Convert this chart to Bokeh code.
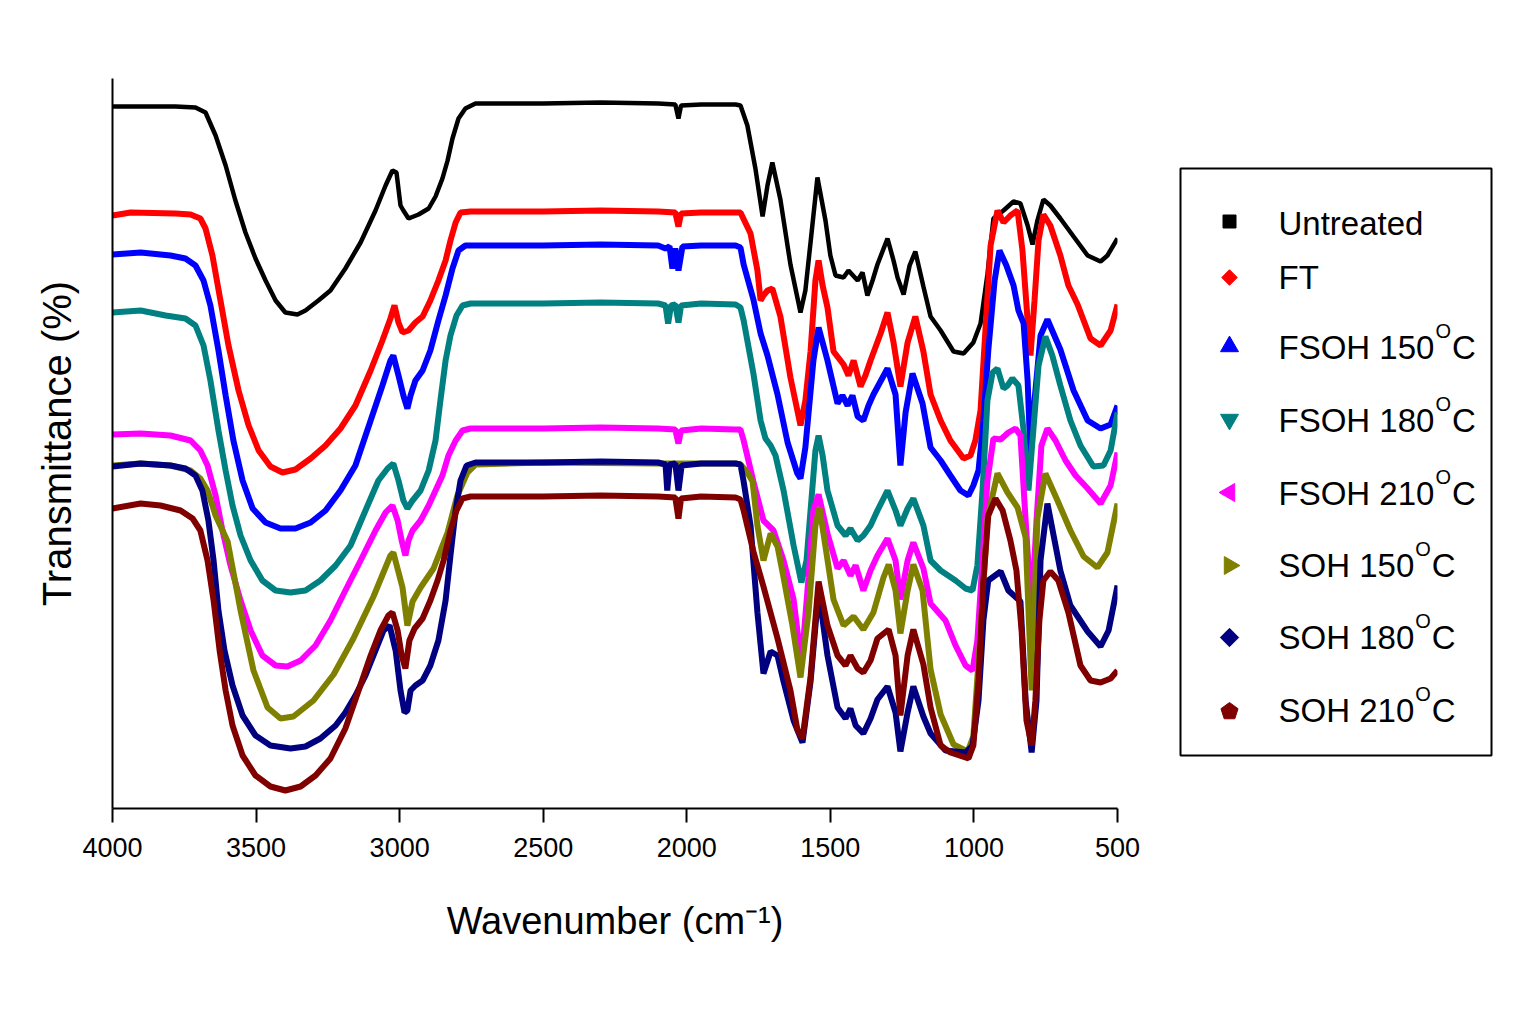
import numpy as np
from bokeh.plotting import figure
from bokeh.layouts import row
from bokeh.models import Range1d, FixedTicker
from bokeh.core.properties import value
from bokeh.embed import file_html
from bokeh.resources import INLINE

# (wavenumber cm-1, transmittance %)
untreated = [
    (4000, 70.2), (3781, 70.2), (3711, 70.1), (3676, 69.6), (3641, 67.3), (3606, 64.3), (3572, 60.8),
    (3537, 57.6), (3502, 55.0), (3467, 52.8), (3432, 50.8), (3398, 49.6), (3356, 49.4), (3328, 49.8),
    (3283, 50.8), (3241, 51.8), (3189, 54.0), (3136, 56.6), (3084, 59.8), (3049, 62.3), (3025, 63.8),
    (3011, 63.6), (2997, 60.3), (2987, 59.8), (2969, 59.0), (2934, 59.4), (2899, 60.0), (2875, 61.2),
    (2851, 63.0), (2833, 64.8), (2816, 67.0), (2795, 69.0), (2771, 70.0), (2736, 70.5), (2500, 70.5),
    (2300, 70.6), (2100, 70.5), (2040, 70.4), (2029, 69.0), (2020, 70.3), (1950, 70.4), (1830, 70.4),
    (1813, 70.3), (1789, 68.3), (1761, 64.0), (1736, 59.2), (1719, 62.3), (1702, 64.6), (1674, 60.9),
    (1639, 54.4), (1604, 49.6), (1587, 51.8), (1569, 56.6), (1545, 63.1), (1517, 58.8), (1500, 55.3),
    (1482, 53.3), (1454, 53.1), (1437, 53.8), (1405, 52.8), (1388, 53.6), (1371, 51.3), (1353, 52.8),
    (1336, 54.4), (1301, 57.0), (1280, 54.8), (1266, 53.1), (1245, 51.4), (1224, 54.3), (1204, 55.7),
    (1176, 52.2), (1151, 49.2), (1116, 47.8), (1071, 45.7), (1036, 45.5), (1002, 46.6), (977, 48.5),
    (953, 53.4), (932, 59.0), (897, 59.8), (862, 60.7), (838, 60.5), (813, 58.3), (796, 56.4),
    (779, 58.8), (758, 60.9), (734, 60.3), (699, 59.0), (653, 57.2), (604, 55.3), (559, 54.7),
    (535, 55.3), (500, 57.0),
]

ft = [
    (4000, 59.3), (3937, 59.6), (3781, 59.5), (3728, 59.4), (3694, 59.0), (3676, 58.0), (3652, 55.3),
    (3624, 50.8), (3596, 46.3), (3561, 41.8), (3526, 38.3), (3491, 35.8), (3450, 34.2), (3408, 33.6),
    (3363, 33.9), (3310, 35.0), (3258, 36.3), (3206, 38.0), (3154, 40.3), (3101, 43.8), (3060, 46.8),
    (3032, 49.0), (3018, 50.3), (3004, 48.6), (2990, 47.6), (2969, 47.8), (2945, 48.6), (2920, 49.2),
    (2893, 50.8), (2865, 52.8), (2840, 54.8), (2823, 56.8), (2805, 58.6), (2788, 59.6), (2753, 59.7),
    (2500, 59.7), (2300, 59.8), (2100, 59.7), (2040, 59.6), (2029, 58.2), (2020, 59.5), (1950, 59.6),
    (1830, 59.6), (1813, 59.6), (1778, 57.5), (1754, 53.8), (1743, 50.8), (1733, 51.3), (1719, 51.8),
    (1702, 52.0), (1674, 49.2), (1639, 43.1), (1604, 38.3), (1587, 40.8), (1569, 45.7), (1552, 52.8),
    (1541, 54.8), (1527, 52.3), (1510, 50.1), (1489, 45.7), (1454, 44.4), (1437, 43.3), (1419, 44.8),
    (1395, 42.2), (1378, 43.3), (1360, 44.8), (1325, 47.5), (1301, 49.6), (1280, 46.6), (1256, 42.2),
    (1231, 46.6), (1204, 49.2), (1176, 45.7), (1151, 41.4), (1116, 38.8), (1082, 36.8), (1036, 35.0),
    (1012, 35.3), (995, 36.8), (977, 39.8), (960, 47.8), (942, 56.3), (918, 59.8), (897, 58.6),
    (873, 59.3), (848, 59.8), (831, 55.8), (813, 48.8), (803, 45.3), (789, 50.8), (775, 56.8),
    (758, 59.4), (734, 58.3), (699, 55.3), (671, 52.3), (639, 50.4), (594, 47.0), (559, 46.3),
    (524, 47.8), (500, 50.4),
]

fsoh150 = [
    (4000, 55.4), (3902, 55.6), (3798, 55.3), (3746, 55.0), (3711, 54.3), (3683, 52.8), (3659, 50.3),
    (3631, 45.8), (3606, 41.3), (3579, 36.8), (3547, 32.8), (3512, 30.0), (3467, 28.6), (3415, 28.0),
    (3363, 28.0), (3310, 28.6), (3258, 29.8), (3206, 31.8), (3154, 34.3), (3101, 38.8), (3060, 42.3),
    (3032, 44.8), (3022, 45.3), (3004, 43.3), (2987, 41.3), (2973, 40.0), (2962, 41.3), (2945, 42.8),
    (2920, 43.8), (2893, 45.8), (2865, 48.8), (2840, 51.3), (2816, 54.0), (2795, 55.8), (2771, 56.3),
    (2500, 56.3), (2300, 56.4), (2100, 56.3), (2074, 56.0), (2060, 56.2), (2050, 54.0), (2040, 56.0),
    (2029, 53.8), (2015, 56.2), (1950, 56.3), (1830, 56.3), (1813, 56.1), (1802, 54.4), (1768, 50.9),
    (1743, 47.5), (1719, 45.3), (1684, 41.4), (1649, 36.6), (1615, 33.5), (1604, 33.0), (1587, 36.1),
    (1559, 44.8), (1541, 48.1), (1510, 44.8), (1475, 40.5), (1458, 41.3), (1440, 40.3), (1423, 41.3),
    (1405, 39.2), (1385, 38.8), (1367, 40.3), (1350, 41.4), (1301, 44.0), (1273, 41.4), (1256, 34.3),
    (1238, 39.6), (1214, 43.5), (1179, 40.5), (1151, 36.1), (1116, 34.8), (1082, 33.3), (1047, 31.8),
    (1019, 31.3), (1002, 32.3), (984, 33.8), (967, 38.8), (950, 45.8), (928, 52.8), (911, 55.8),
    (887, 54.3), (862, 52.3), (845, 49.8), (827, 48.5), (813, 42.8), (803, 35.3), (789, 40.8),
    (768, 47.3), (744, 48.9), (699, 45.9), (653, 41.8), (604, 38.8), (559, 38.0), (524, 38.4),
    (500, 40.3),
]

fsoh180 = [
    (4000, 49.6), (3902, 49.8), (3815, 49.3), (3746, 49.0), (3711, 48.3), (3683, 46.3), (3659, 42.8),
    (3631, 37.8), (3606, 33.8), (3582, 30.3), (3554, 27.3), (3519, 24.8), (3478, 22.8), (3432, 21.8),
    (3380, 21.6), (3328, 21.8), (3276, 22.8), (3223, 24.3), (3171, 26.3), (3119, 29.8), (3074, 32.8),
    (3042, 34.0), (3022, 34.5), (3004, 32.8), (2987, 30.8), (2973, 30.0), (2955, 30.8), (2927, 31.8),
    (2899, 33.8), (2875, 36.8), (2858, 40.8), (2840, 44.8), (2823, 47.3), (2802, 49.3), (2781, 50.3),
    (2753, 50.5), (2500, 50.5), (2300, 50.6), (2100, 50.5), (2074, 50.3), (2065, 48.5), (2055, 50.3),
    (2040, 50.4), (2029, 48.6), (2020, 50.3), (1950, 50.5), (1830, 50.4), (1813, 50.1), (1802, 48.8),
    (1768, 43.5), (1743, 38.8), (1726, 37.0), (1708, 36.3), (1691, 35.3), (1663, 31.8), (1628, 26.3),
    (1601, 22.6), (1583, 24.8), (1569, 29.8), (1552, 35.8), (1541, 37.3), (1527, 35.3), (1510, 31.8),
    (1475, 28.3), (1447, 27.3), (1430, 28.0), (1405, 26.8), (1385, 27.3), (1360, 28.3), (1336, 29.8),
    (1301, 31.8), (1273, 29.8), (1256, 28.3), (1231, 30.0), (1211, 31.0), (1176, 28.3), (1151, 24.8),
    (1116, 23.8), (1064, 22.8), (1029, 22.0), (1005, 21.8), (988, 24.3), (970, 31.8), (953, 40.8),
    (935, 43.6), (918, 44.0), (897, 42.0), (883, 42.3), (866, 43.0), (845, 42.3), (827, 37.8),
    (810, 31.8), (796, 36.8), (775, 44.3), (751, 47.2), (727, 45.3), (699, 42.3), (664, 38.8),
    (629, 36.3), (584, 34.2), (549, 34.3), (524, 35.8), (500, 39.6),
]

fsoh210 = [
    (4000, 37.4), (3902, 37.5), (3798, 37.3), (3728, 36.8), (3694, 35.8), (3669, 34.3), (3641, 31.3),
    (3617, 27.8), (3589, 24.3), (3554, 20.8), (3519, 17.8), (3478, 15.3), (3432, 14.3), (3391, 14.2),
    (3345, 14.8), (3293, 16.3), (3241, 18.8), (3189, 21.8), (3136, 24.8), (3084, 27.8), (3049, 29.6),
    (3025, 30.3), (3007, 28.8), (2993, 26.8), (2980, 25.3), (2969, 26.8), (2955, 27.8), (2927, 28.8),
    (2899, 30.3), (2875, 31.8), (2851, 33.3), (2830, 35.3), (2805, 36.8), (2781, 37.8), (2753, 38.0),
    (2500, 38.0), (2300, 38.1), (2100, 38.0), (2040, 37.9), (2029, 36.5), (2020, 37.8), (1950, 38.0),
    (1830, 37.9), (1813, 37.9), (1802, 36.8), (1768, 32.7), (1733, 28.8), (1698, 27.8), (1663, 24.8),
    (1628, 20.9), (1604, 15.3), (1594, 16.8), (1576, 23.1), (1559, 29.8), (1541, 31.4), (1510, 27.5),
    (1475, 24.0), (1454, 24.8), (1430, 23.3), (1412, 24.3), (1385, 21.8), (1360, 23.8), (1336, 25.3),
    (1301, 27.0), (1273, 24.8), (1256, 20.9), (1231, 24.8), (1211, 26.6), (1176, 24.0), (1151, 20.5),
    (1099, 18.8), (1064, 16.3), (1029, 14.3), (1005, 13.8), (988, 16.8), (970, 24.8), (953, 32.8),
    (932, 37.0), (907, 36.9), (880, 37.6), (855, 38.0), (838, 37.3), (820, 28.8), (799, 19.5),
    (782, 28.8), (765, 36.3), (744, 38.0), (716, 36.8), (681, 34.8), (646, 33.3), (604, 32.0),
    (559, 30.5), (524, 32.3), (500, 35.6),
]

soh150 = [
    (4000, 34.3), (3902, 34.5), (3798, 34.3), (3728, 33.8), (3694, 33.0), (3669, 31.8), (3641, 29.3),
    (3599, 26.7), (3554, 19.8), (3509, 13.8), (3460, 10.1), (3415, 9.0), (3370, 9.2), (3300, 10.8),
    (3230, 13.4), (3161, 17.0), (3091, 21.2), (3032, 25.3), (3022, 25.6), (2990, 22.1), (2973, 18.3),
    (2955, 20.7), (2927, 22.1), (2882, 24.0), (2833, 27.6), (2799, 31.3), (2764, 33.6), (2736, 34.4),
    (2500, 34.6), (2100, 34.5), (1830, 34.5), (1813, 34.4), (1789, 33.6), (1771, 32.7), (1754, 28.3),
    (1733, 24.8), (1708, 27.5), (1684, 26.2), (1663, 23.1), (1632, 18.3), (1604, 13.1), (1576, 19.6),
    (1552, 28.3), (1538, 30.1), (1517, 26.2), (1489, 20.9), (1454, 18.3), (1419, 19.2), (1385, 17.9),
    (1350, 19.6), (1315, 23.1), (1297, 24.4), (1273, 21.8), (1256, 17.5), (1231, 21.8), (1211, 24.4),
    (1179, 21.8), (1151, 13.9), (1116, 9.4), (1071, 6.4), (1022, 5.7), (1002, 7.2), (977, 17.7),
    (953, 29.0), (918, 33.5), (883, 31.6), (848, 30.1), (820, 27.1), (799, 11.8), (779, 29.0),
    (751, 33.5), (709, 30.8), (664, 27.8), (618, 25.2), (570, 24.1), (535, 25.6), (500, 30.5),
]

soh180 = [
    (4000, 34.2), (3902, 34.5), (3798, 34.3), (3746, 34.0), (3711, 33.3), (3687, 31.8), (3666, 28.8),
    (3648, 24.8), (3631, 19.8), (3610, 15.8), (3582, 12.3), (3547, 9.3), (3502, 7.3), (3450, 6.3),
    (3380, 6.0), (3328, 6.2), (3276, 7.0), (3223, 8.3), (3189, 9.6), (3154, 11.3), (3119, 13.3),
    (3084, 15.8), (3056, 17.8), (3035, 18.3), (3014, 15.8), (2997, 11.8), (2983, 9.6), (2973, 9.8),
    (2962, 11.8), (2945, 12.3), (2920, 12.8), (2893, 14.3), (2865, 16.8), (2840, 20.8), (2823, 25.3),
    (2805, 29.8), (2788, 32.8), (2767, 34.3), (2736, 34.6), (2500, 34.6), (2300, 34.7), (2100, 34.6),
    (2074, 34.4), (2068, 31.8), (2060, 34.4), (2040, 34.5), (2029, 31.8), (2018, 34.3), (1950, 34.5),
    (1830, 34.5), (1813, 34.4), (1802, 32.7), (1778, 28.3), (1754, 19.6), (1733, 13.5), (1708, 15.7),
    (1684, 15.3), (1663, 12.7), (1628, 8.8), (1597, 6.6), (1569, 12.7), (1541, 21.8), (1510, 15.3),
    (1475, 10.1), (1447, 9.0), (1430, 10.0), (1412, 8.3), (1385, 7.5), (1360, 9.0), (1336, 10.9),
    (1301, 12.2), (1273, 9.6), (1256, 5.7), (1231, 9.6), (1211, 12.2), (1176, 9.2), (1151, 7.5),
    (1099, 5.8), (1029, 5.6), (1005, 6.3), (984, 10.8), (967, 18.8), (950, 22.8), (907, 23.7),
    (880, 21.8), (838, 20.7), (820, 10.8), (799, 5.6), (782, 10.8), (768, 24.8), (744, 30.5),
    (699, 23.8), (664, 20.3), (604, 17.7), (559, 16.2), (531, 17.8), (500, 22.3),
]

soh210 = [
    (4000, 30.0), (3902, 30.5), (3833, 30.3), (3763, 29.8), (3721, 29.0), (3694, 27.8), (3669, 24.8),
    (3648, 20.8), (3627, 15.8), (3606, 11.8), (3582, 8.3), (3547, 5.3), (3502, 3.3), (3450, 2.2),
    (3398, 1.8), (3345, 2.2), (3293, 3.3), (3241, 5.0), (3189, 8.0), (3143, 11.8), (3101, 15.3),
    (3067, 17.8), (3039, 19.3), (3025, 19.6), (3007, 17.8), (2993, 15.3), (2980, 14.0), (2966, 16.8),
    (2948, 18.0), (2920, 19.0), (2893, 20.8), (2868, 22.8), (2847, 24.8), (2823, 27.8), (2802, 29.8),
    (2781, 31.0), (2753, 31.2), (2500, 31.2), (2300, 31.3), (2100, 31.2), (2040, 31.1), (2029, 29.0),
    (2020, 31.0), (1950, 31.2), (1830, 31.1), (1813, 30.9), (1802, 29.8), (1768, 25.7), (1733, 22.2),
    (1684, 17.0), (1639, 11.8), (1615, 7.9), (1597, 7.0), (1569, 13.1), (1541, 22.7), (1510, 18.3),
    (1475, 15.3), (1447, 14.3), (1430, 15.3), (1405, 14.0), (1385, 13.6), (1360, 14.8), (1336, 17.0),
    (1297, 17.9), (1273, 15.3), (1256, 9.3), (1231, 15.3), (1211, 17.9), (1176, 14.4), (1151, 10.1),
    (1116, 6.3), (1082, 5.6), (1019, 5.0), (1002, 6.3), (984, 12.8), (967, 22.8), (950, 29.3),
    (925, 31.0), (900, 29.8), (873, 26.8), (852, 23.8), (834, 17.8), (817, 8.8), (799, 6.3),
    (786, 10.8), (772, 18.8), (758, 22.8), (734, 23.7), (706, 22.8), (671, 19.6), (629, 14.3),
    (594, 12.8), (559, 12.6), (524, 13.0), (500, 13.8),
]

series = [untreated, ft, fsoh150, fsoh180, fsoh210, soh150, soh180, soh210]
names = ["Untreated", "FT", "FSOH 150", "FSOH 180", "FSOH 210", "SOH 150", "SOH 180", "SOH 210"]
degree = [False, False, True, True, True, True, True, True]
colors = ["#000000", "#FF0000", "#0000FF", "#008080", "#FF00FF", "#808000", "#000080", "#800000"]
widths = [4.5, 6, 6, 6, 6, 6, 6, 6]
x_ticks = [4000, 3500, 3000, 2500, 2000, 1500, 1000, 500]

FONT = "Liberation Sans"
MAIN_W, LEG_W, H = 1168, 347, 998
TOP, BOTTOM = 78, 190

p = figure(width=MAIN_W, height=H, x_range=Range1d(4000, 500), y_range=Range1d(0, 73),
           output_backend="svg", toolbar_location=None,
           min_border_left=112, min_border_right=51, min_border_top=TOP, min_border_bottom=BOTTOM)
p.outline_line_color = None
p.grid.visible = False
p.background_fill_color = "white"
p.border_fill_color = "white"

for data, c, w in zip(series, colors, widths):
    wn = [d[0] for d in data]
    t = [d[1] for d in data]
    p.line(wn, t, line_color=c, line_width=w)

p.xaxis.ticker = FixedTicker(ticks=x_ticks)
p.xaxis.axis_line_width = 2
p.xaxis.major_tick_line_width = 2
p.xaxis.major_tick_out = 14
p.xaxis.major_tick_in = 0
p.xaxis.minor_tick_line_color = None
p.xaxis.major_label_text_font = FONT
p.xaxis.major_label_text_font_size = "27px"
p.xaxis.major_label_text_color = "black"
p.xaxis.major_label_standoff = 15
p.xaxis.axis_label = "Wavenumber (cm\u207b\u00b9)"
p.xaxis.axis_label_text_font = FONT
p.xaxis.axis_label_text_font_size = "38px"
p.xaxis.axis_label_text_font_style = "normal"
p.xaxis.axis_label_text_color = "black"
p.xaxis.axis_label_standoff = 40

p.yaxis.ticker = FixedTicker(ticks=[])
p.yaxis.axis_line_width = 2
p.yaxis.major_tick_out = 0
p.yaxis.minor_tick_line_color = None
p.yaxis.major_label_standoff = 0
p.yaxis.axis_label = "Transmittance (%)"
p.yaxis.axis_label_text_font = FONT
p.yaxis.axis_label_text_font_size = "40px"
p.yaxis.axis_label_text_font_style = "normal"
p.yaxis.axis_label_text_color = "black"
p.yaxis.axis_label_standoff = 34

# legend panel: its frame lines up with the main frame, coordinates in page pixels
leg = figure(width=LEG_W, height=H, x_range=Range1d(MAIN_W, MAIN_W + LEG_W),
             y_range=Range1d(TOP + 730, TOP), output_backend="svg", toolbar_location=None,
             min_border_left=0, min_border_right=0, min_border_top=TOP, min_border_bottom=BOTTOM,
             x_axis_location=None, y_axis_location=None)
leg.outline_line_color = None
leg.grid.visible = False
leg.background_fill_color = "white"
leg.border_fill_color = "white"

leg.quad(left=1180, right=1491, top=168, bottom=755, fill_color=None, line_color="black", line_width=2)

mark_x = 1229
text_x = 1278
text_size = 33
sup_size = 20
row_base = [223, 277, 347, 420, 493, 565, 637, 710]
row_mark = [221, 277, 346, 419, 492, 565, 637, 711]

leg.scatter([mark_x], [row_mark[0]], marker="square", size=13, color=colors[0])
leg.scatter([mark_x], [row_mark[1]], marker="square", size=11, angle=np.pi / 4, color=colors[1])
leg.scatter([mark_x], [row_mark[2]], marker="triangle", size=18, color=colors[2])
leg.scatter([mark_x], [row_mark[3]], marker="inverted_triangle", size=18, color=colors[3])
leg.scatter([mark_x], [row_mark[4]], marker="triangle", size=18, angle=np.pi / 2, color=colors[4])
leg.scatter([mark_x], [row_mark[5]], marker="triangle", size=18, angle=-np.pi / 2, color=colors[5])
leg.scatter([mark_x], [row_mark[6]], marker="square", size=13, angle=np.pi / 4, color=colors[6])
ang = np.arange(5) * 2 * np.pi / 5
leg.patch(mark_x + 9 * np.sin(ang), row_mark[7] - 9 * np.cos(ang), color=colors[7])

# rough Arial advance widths, to place the raised "O"
adv = {"F": .611, "S": .667, "O": .778, "H": .722, " ": .278, "C": .722}
for i, name in enumerate(names):
    leg.text([text_x], [row_base[i]], text=[name], text_font=value(FONT),
             text_font_size=f"{text_size}px", text_baseline="alphabetic", text_color="black")
    if degree[i]:
        w = sum(adv.get(ch, .556) for ch in name) * text_size
        ox = text_x + w + 1
        leg.text([ox], [row_base[i] - 17], text=["O"], text_font=value(FONT),
                 text_font_size=f"{sup_size}px", text_baseline="alphabetic", text_color="black")
        leg.text([ox + adv["O"] * sup_size + 1], [row_base[i]], text=["C"], text_font=value(FONT),
                 text_font_size=f"{text_size}px", text_baseline="alphabetic", text_color="black")

layout = row(p, leg)
open("out.html", "w").write(file_html(layout, INLINE))
